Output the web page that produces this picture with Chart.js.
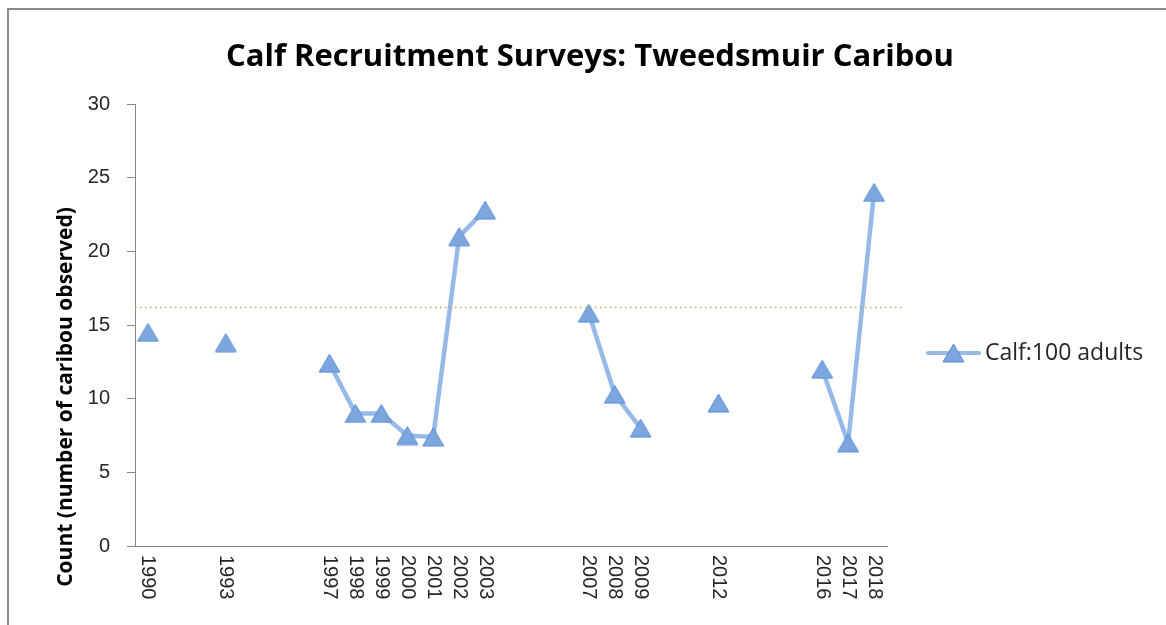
<!DOCTYPE html>
<html>
<head>
<meta charset="UTF-8">
<title>Calf Recruitment Surveys: Tweedsmuir Caribou</title>
<script src="https://cdn.jsdelivr.net/npm/chart.js@4.4.1/dist/chart.umd.min.js"></script>
<style>
  body { margin: 0; background: #fff; }
  canvas { display: block; }
</style>
</head>
<body>
<canvas id="myChart" width="1166" height="625"></canvas>
<script>
// survey years and calf:100 adult ratios
var years = [1990, 1993, 1997, 1998, 1999, 2000, 2001, 2002, 2003, 2007, 2008, 2009, 2012, 2016, 2017, 2018];
var calfRatio = [14.5, 13.8, 12.4, 9.0, 9.0, 7.5, 7.4, 21.0, 22.8, 15.8, 10.3, 8.0, 9.7, 12.0, 7.0, 24.0];
var yTicks = [0, 5, 10, 15, 20, 25, 30];
var refLine = 16.2; // dotted horizontal line
var seriesName = 'Calf:100 adults';
var chartTitle = 'Calf Recruitment Surveys: Tweedsmuir Caribou';
var yTitle = 'Count (number of caribou observed)';

var lineColor = 'rgba(125,168,225,0.8)';
var markFill = '#7ba6de';
var markEdge = '#5b8cd4';

// triangle marker centred on its box, like the spreadsheet marker
var marca = document.createElement('canvas');
marca.width = 23;
marca.height = 20;
(function () {
  var c = marca.getContext('2d');
  c.fillStyle = markFill;
  c.strokeStyle = markEdge;
  c.lineWidth = 1;
  c.beginPath();
  c.moveTo(11.5, 1);
  c.lineTo(22, 19);
  c.lineTo(1, 19);
  c.closePath();
  c.fill();
  c.stroke();
})();

// break the line where a year was not surveyed
var puntos = [];
for (var i = 0; i < years.length; i++) {
  if (i > 0 && years[i] - years[i - 1] > 1) {
    puntos.push({ x: years[i - 1] + 1, y: null });
  }
  puntos.push({ x: years[i], y: calfRatio[i] });
}

var extras = {
  id: 'extras',
  beforeDraw: function (chart) {
    var ctx = chart.ctx;
    ctx.save();
    ctx.strokeStyle = '#8a8a8a';
    ctx.lineWidth = 2;
    ctx.strokeRect(8, 9, 1300, 800);
    ctx.restore();
  },
  afterDatasetsDraw: function (chart) {
    var ctx = chart.ctx;
    var area = chart.chartArea;
    var xs = chart.scales.x;
    var ys = chart.scales.y;
    ctx.save();

    // dotted reference line
    var yRef = Math.round(ys.getPixelForValue(refLine)) + 0.5;
    ctx.strokeStyle = '#9bbb59';
    ctx.lineWidth = 1.5;
    ctx.setLineDash([1.5, 3.5]);
    ctx.beginPath();
    ctx.moveTo(area.left, yRef);
    ctx.lineTo(area.right + 18, yRef);
    ctx.stroke();
    ctx.setLineDash([]);

    // title
    ctx.fillStyle = '#000';
    ctx.font = 'bold 31px "Open Sans"';
    ctx.textAlign = 'center';
    ctx.textBaseline = 'alphabetic';
    ctx.fillText(chartTitle, 590, 66);

    // y axis title
    ctx.save();
    ctx.translate(72, 397);
    ctx.rotate(-Math.PI / 2);
    ctx.font = 'bold 21px "Open Sans"';
    ctx.textBaseline = 'alphabetic';
    ctx.fillText(yTitle, 0, 0);
    ctx.restore();

    // x labels, rotated to read downwards
    ctx.font = '20px "Liberation Sans"';
    ctx.fillStyle = '#262626';
    ctx.textAlign = 'left';
    ctx.textBaseline = 'middle';
    years.forEach(function (yr) {
      var px = xs.getPixelForValue(yr);
      ctx.save();
      ctx.translate(px, area.bottom + 9);
      ctx.rotate(Math.PI / 2);
      ctx.fillText(String(yr), 0, 0);
      ctx.restore();
    });

    // legend
    var ly = 353;
    ctx.strokeStyle = lineColor;
    ctx.lineWidth = 4;
    ctx.lineCap = 'round';
    ctx.beginPath();
    ctx.moveTo(928, ly);
    ctx.lineTo(979, ly);
    ctx.stroke();
    ctx.drawImage(marca, 953.5 - 11.5, ly - 10);
    ctx.fillStyle = '#262626';
    ctx.font = '23px "Open Sans"';
    ctx.textAlign = 'left';
    ctx.textBaseline = 'middle';
    ctx.fillText(seriesName, 985, ly);

    ctx.restore();
  }
};

var ctx = document.getElementById('myChart').getContext('2d');
var chart = new Chart(ctx, {
  type: 'line',
  data: {
    datasets: [{
      label: seriesName,
      data: puntos,
      borderColor: lineColor,
      borderWidth: 4.5,
      spanGaps: false,
      pointStyle: marca,
      pointRadius: 11.5,
      tension: 0
    }]
  },
  options: {
    responsive: false,
    animation: false,
    layout: { padding: { top: 104, right: 279, left: 0, bottom: 0 } },
    plugins: {
      legend: { display: false },
      title: { display: false },
      tooltip: { enabled: false }
    },
    scales: {
      x: {
        type: 'linear',
        min: 1989.5,
        max: 2018.5,
        grid: { display: false },
        ticks: { display: false },
        border: { color: '#868686', width: 1 },
        afterFit: function (s) { s.height = 79; }
      },
      y: {
        min: 0,
        max: 30,
        afterBuildTicks: function (s) { s.ticks = yTicks.map(function (v) { return { value: v }; }); },
        ticks: {
          font: { family: 'Liberation Sans', size: 20 },
          color: '#262626',
          padding: 17
        },
        grid: { drawOnChartArea: false, tickLength: 8, color: '#868686' },
        border: { color: '#868686', width: 1 },
        afterFit: function (s) { s.width = 135; }
      }
    }
  },
  plugins: [extras]
});
</script>
</body>
</html>
